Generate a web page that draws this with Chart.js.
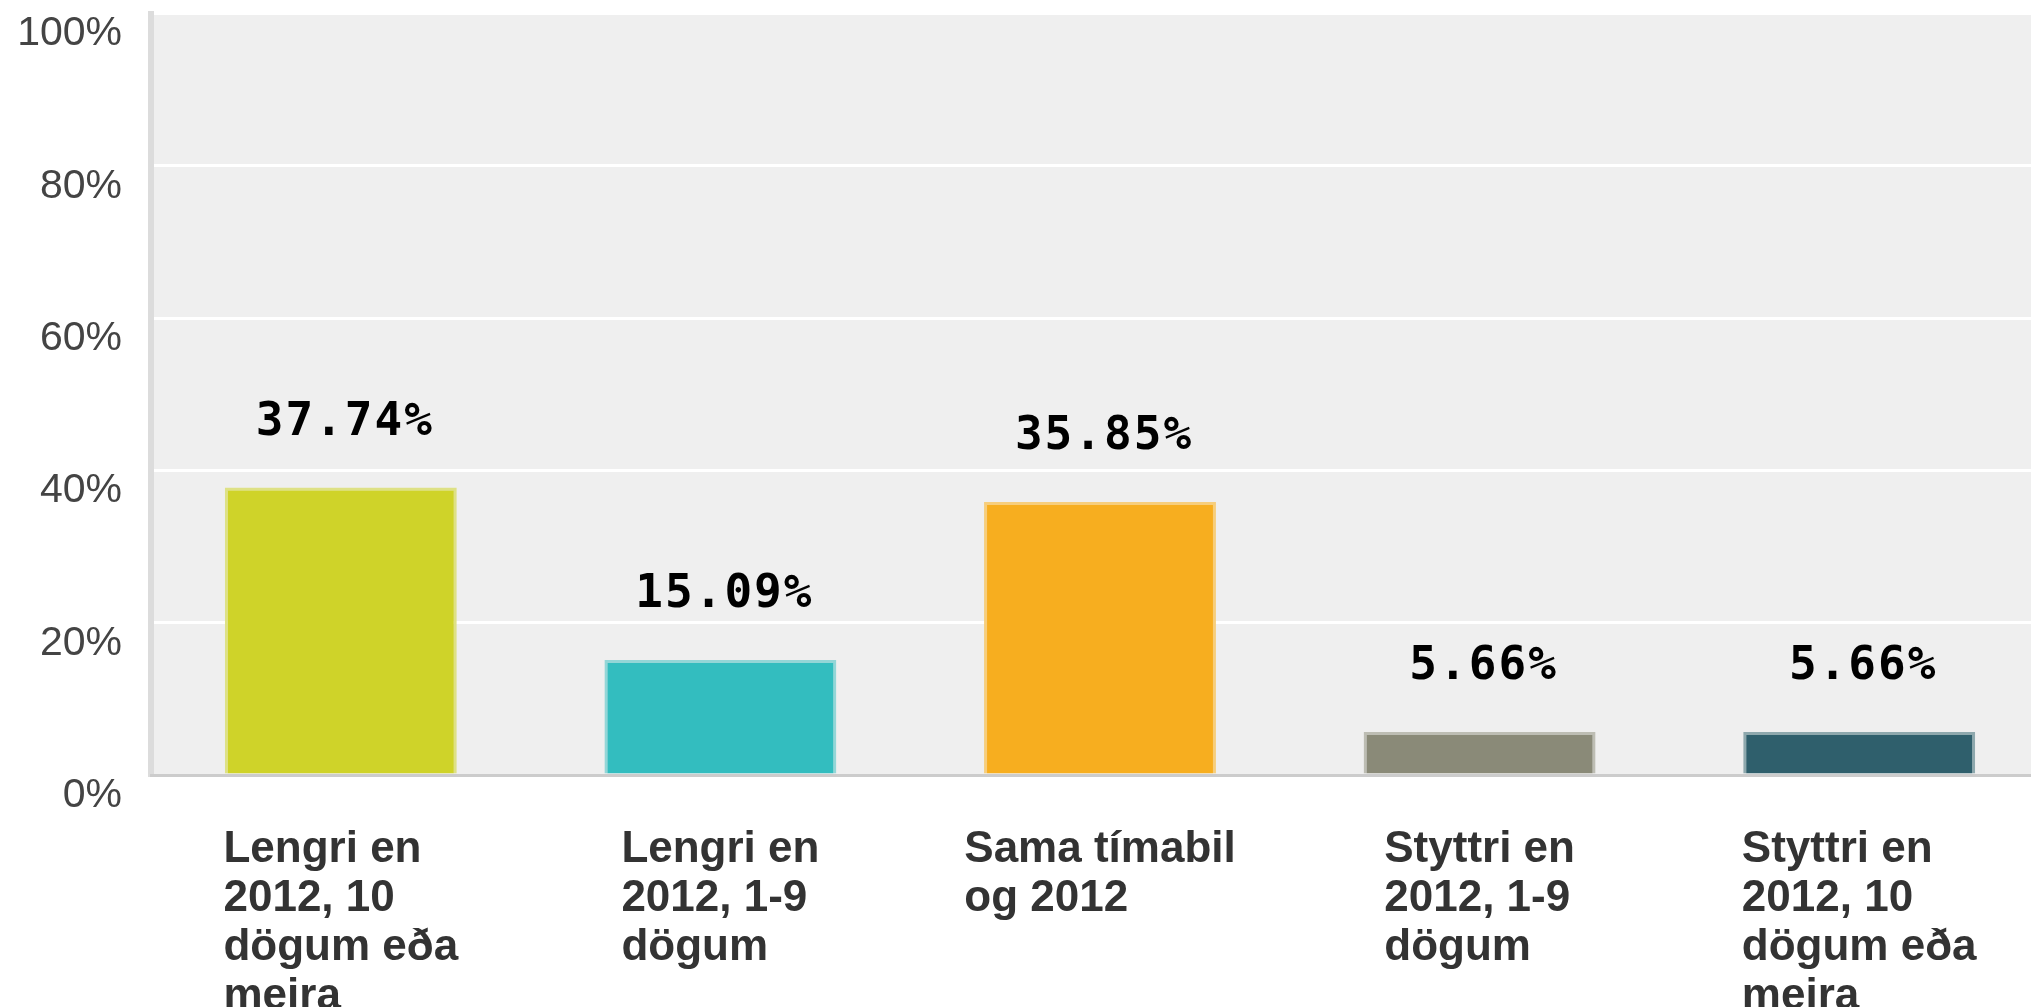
<!DOCTYPE html>
<html>
<head>
<meta charset="utf-8">
<script src="https://cdn.jsdelivr.net/npm/chart.js@4/dist/chart.umd.min.js"></script>
<style>
  html, body { margin: 0; padding: 0; background: #ffffff; overflow: hidden; }
  #wrap { position: absolute; left: 0; top: 0; width: 2060px; height: 1007px; }
</style>
</head>
<body>
<div id="wrap"><canvas id="c" width="2060" height="1007"></canvas></div>
<script>
const categories = [
  ["Lengri en", "2012, 10", "dögum eða", "meira"],
  ["Lengri en", "2012, 1-9", "dögum"],
  ["Sama tímabil", "og 2012"],
  ["Styttri en", "2012, 1-9", "dögum"],
  ["Styttri en", "2012, 10", "dögum eða", "meira"]
];
const values = [37.74, 15.09, 35.85, 5.66, 5.66];
const barColors = ["#CFD329", "#33BDBF", "#F7AE1F", "#8A8A78", "#2F5F6C"];
const barBorderColors = ["#DEE185", "#93D6D7", "#F7CE7C", "#BDBDB3", "#8EA8AD"];
const yTicks = [0, 20, 40, 60, 80, 100];

const xFont = { family: '"Liberation Sans", Arial, sans-serif', size: 44, weight: 'bold', lineHeight: '49px' };

// each label block is centred under its bar, its lines left-aligned inside the block
const measureCtx = document.createElement('canvas').getContext('2d');
measureCtx.font = 'bold 44px "Liberation Sans", Arial, sans-serif';
function blockHalfWidth(i) {
  return Math.max(...categories[i].map(s => measureCtx.measureText(s).width)) / 2;
}

const plotBg = {
  id: 'plotBg',
  beforeDraw(chart) {
    const {ctx, chartArea: a} = chart;
    ctx.save();
    ctx.fillStyle = '#efefef';
    ctx.fillRect(a.left, a.top, a.right - a.left, a.bottom - a.top);
    ctx.restore();
    // shift the x-axis label blocks so they are centred on their ticks
    const xs = chart.scales.x;
    const items = xs.getLabelItems(a);
    items.forEach((it, i) => {
      it.options.translation[0] = xs.getPixelForTick(i) - blockHalfWidth(i);
    });
  }
};

const valueLabels = {
  id: 'valueLabels',
  afterDatasetsDraw(chart) {
    const {ctx} = chart;
    const meta = chart.getDatasetMeta(0);
    ctx.save();
    ctx.font = 'bold 46px "DejaVu Sans Mono"';
    ctx.letterSpacing = '2px';
    ctx.fillStyle = '#000000';
    ctx.textAlign = 'center';
    ctx.textBaseline = 'alphabetic';
    meta.data.forEach((bar, i) => {
      ctx.fillText(values[i].toFixed(2) + '%', bar.x + 4, bar.y - 53);
    });
    ctx.restore();
  }
};

new Chart(document.getElementById('c'), {
  type: 'bar',
  data: {
    labels: categories,
    datasets: [{
      data: values,
      backgroundColor: barColors,
      borderColor: barBorderColors,
      borderWidth: {top: 3, left: 3, right: 3, bottom: 0},
      borderSkipped: 'bottom',
      barPercentage: 0.611,
      categoryPercentage: 1.0
    }]
  },
  options: {
    responsive: false,
    maintainAspectRatio: false,
    animation: false,
    layout: { padding: { top: 13.5, right: 11, left: 0, bottom: 0 } },
    plugins: { legend: { display: false }, tooltip: { enabled: false } },
    scales: {
      x: {
        grid: { display: false, drawTicks: false },
        border: { display: true, color: '#cccccc', width: 3, z: 1 },
        ticks: {
          align: 'start',
          labelOffset: 0,
          padding: 50,
          maxRotation: 0,
          autoSkip: false,
          color: '#333333',
          font: xFont
        },
        afterFit(scale) {
          scale.height = 232;
          scale.paddingLeft = 0; scale.paddingRight = 0;
        }
      },
      y: {
        min: 0,
        max: 100,
        afterBuildTicks(scale) { scale.ticks = yTicks.map(v => ({value: v})); },
        grid: { color: '#ffffff', lineWidth: 3, drawTicks: false },
        border: { display: true, color: '#dcdcdc', width: 6 },
        ticks: {
          padding: 29,
          labelOffset: 20.5,
          color: '#444444',
          font: { family: '"Liberation Sans", Arial, sans-serif', size: 41 },
          callback: (v) => v + '%'
        },
        afterFit(scale) {
          scale.width = 151;
          scale.paddingTop = 0; scale.paddingBottom = 0;
        }
      }
    }
  },
  plugins: [plotBg, valueLabels]
});
</script>
</body>
</html>
